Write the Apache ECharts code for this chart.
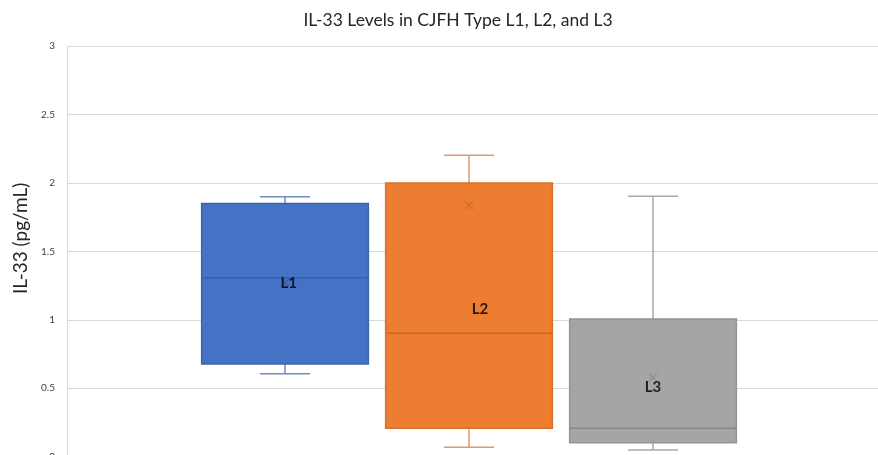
<!DOCTYPE html>
<html>
<head>
<meta charset="utf-8">
<script src="https://cdn.jsdelivr.net/npm/echarts@6/dist/echarts.min.js"></script>
<style>html,body{margin:0;padding:0;background:#fff;}#c{width:878px;height:455px;}</style>
</head>
<body>
<div id="c"></div>
<script>
// ---- data ----
const categories = ['L1', 'L2', 'L3'];
const minVals    = [0.606, 0.069, 0.049];
const q1Vals     = [0.677, 0.207, 0.102];
const medianVals = [1.307, 0.901, 0.207];
const q3Vals     = [1.850, 2.000, 1.005];
const maxVals    = [1.898, 2.202, 1.903];
const meanVals   = [1.27, 1.837, 0.58];
const labelPosX  = [1.02, 2.06, 3.0];
const labelPosY  = [1.269, 1.079, 0.508];
const yMin = 0, yMax = 3, yStep = 0.5;

// ---- styles ----
const fills    = ['#4472C4', '#ED7D31', '#A5A5A5'];
const borders  = ['#3A64AE', '#D9702A', '#939393'];
const medians  = ['#3560A8', '#CC6626', '#888888'];
const whiskers = ['#6F8DC6', '#DE9A6A', '#A8A8A8'];
const meanCols = ['#2F5597', '#C0652A', '#8A8A8A'];

const boxData = categories.map((c, i) => [i + 1, minVals[i], q1Vals[i], medianVals[i], q3Vals[i], maxVals[i], meanVals[i]]);
const labelData = categories.map((c, i) => ({ name: c, value: [labelPosX[i], labelPosY[i]] }));

function renderBox(params, api) {
  const i = params.dataIndex;
  const x = api.value(0);
  const unit = api.size([1, 0])[0];
  const bw = unit * 0.906;
  const cw = unit * 0.272;
  const pMin = api.coord([x, api.value(1)]);
  const pQ1 = api.coord([x, api.value(2)]);
  const pMed = api.coord([x, api.value(3)]);
  const pQ3 = api.coord([x, api.value(4)]);
  const pMax = api.coord([x, api.value(5)]);
  const pMean = api.coord([x, api.value(6)]);
  const cx = pQ1[0];
  const wStyle = { stroke: whiskers[i], lineWidth: 1.5 };
  const m = 4;
  return {
    type: 'group',
    children: [
      { type: 'line', shape: { x1: cx, y1: pQ3[1], x2: cx, y2: pMax[1] }, style: wStyle },
      { type: 'line', shape: { x1: cx - cw / 2, y1: pMax[1], x2: cx + cw / 2, y2: pMax[1] }, style: wStyle },
      { type: 'line', shape: { x1: cx, y1: pQ1[1], x2: cx, y2: pMin[1] }, style: wStyle },
      { type: 'line', shape: { x1: cx - cw / 2, y1: pMin[1], x2: cx + cw / 2, y2: pMin[1] }, style: wStyle },
      { type: 'rect', shape: { x: cx - bw / 2, y: pQ3[1], width: bw, height: pQ1[1] - pQ3[1] },
        style: { fill: fills[i], stroke: borders[i], lineWidth: 1.5 } },
      { type: 'line', shape: { x1: cx - bw / 2, y1: pMed[1], x2: cx + bw / 2, y2: pMed[1] },
        style: { stroke: medians[i], lineWidth: 1.5 } },
      { type: 'line', shape: { x1: pMean[0] - m, y1: pMean[1] - m, x2: pMean[0] + m, y2: pMean[1] + m },
        style: { stroke: meanCols[i], lineWidth: 1.5, opacity: 0.6 } },
      { type: 'line', shape: { x1: pMean[0] - m, y1: pMean[1] + m, x2: pMean[0] + m, y2: pMean[1] - m },
        style: { stroke: meanCols[i], lineWidth: 1.5, opacity: 0.6 } }
    ]
  };
}

const chart = echarts.init(document.getElementById('c'), null, { renderer: 'canvas' });
chart.setOption({
  backgroundColor: '#ffffff',
  animation: false,
  title: {
    text: 'IL-33 Levels in CJFH Type L1, L2, and L3',
    left: 453, top: 6, textAlign: 'center',
    textStyle: { fontFamily: 'Lato, "Open Sans", sans-serif', fontSize: 17.5, fontWeight: 'normal', color: '#262626' }
  },
  grid: { left: 67, right: -10, top: 46, bottom: -1.7, containLabel: false, outerBoundsMode: 'none' },
  xAxis: {
    type: 'value', min: -0.1848, max: 4.277, show: false
  },
  yAxis: {
    type: 'value', min: yMin, max: yMax, interval: yStep,
    name: 'IL-33 (pg/mL)', nameLocation: 'middle', nameGap: 36,
    nameTextStyle: { fontFamily: 'Lato, "Open Sans", sans-serif', fontSize: 19, color: '#262626', padding: [0, 0, 0, 26] },
    axisLine: { show: true, onZero: false, lineStyle: { color: '#d9d9d9', width: 1 } },
    axisTick: { show: false },
    axisLabel: { fontFamily: 'Lato, "Open Sans", sans-serif', fontSize: 10, color: '#404040', margin: 12 },
    splitLine: { show: true, lineStyle: { color: '#d9d9d9', width: 1 } }
  },
  series: [
    {
      type: 'custom',
      renderItem: renderBox,
      encode: { x: 0, y: [1, 5] },
      data: boxData,
      z: 2
    },
    {
      type: 'scatter',
      symbolSize: 0,
      data: labelData,
      z: 5,
      label: {
        show: true, position: 'inside', formatter: '{b}',
        fontFamily: 'Lato, "Open Sans", sans-serif', fontSize: 15, fontWeight: 'bold', color: '#000'
      }
    }
  ]
});
</script>
</body>
</html>
